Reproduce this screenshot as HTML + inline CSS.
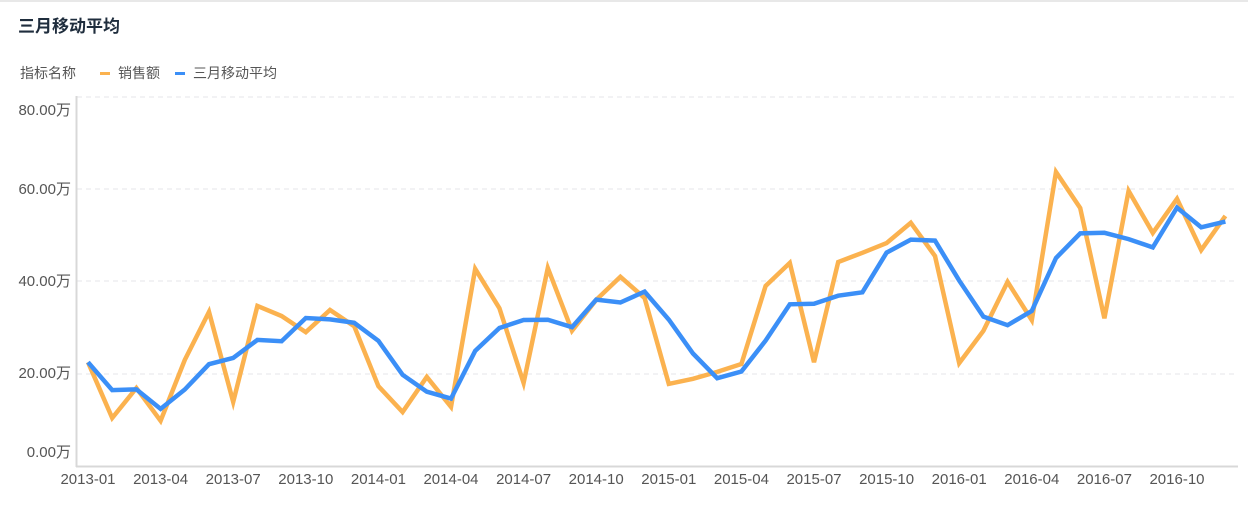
<!DOCTYPE html>
<html><head><meta charset="utf-8"><style>
body{margin:0;background:#fff;width:1248px;height:507px;overflow:hidden;font-family:"Liberation Sans","Noto Sans CJK SC",sans-serif}
</style></head><body>
<svg id="s" width="1248" height="507" xmlns="http://www.w3.org/2000/svg" font-family="Liberation Sans, Noto Sans CJK SC, sans-serif">
<rect x="0" y="0" width="1248" height="2" fill="#e8e8e8"/>
<text x="18" y="32" font-size="17" font-weight="bold" fill="#1f2d3d">三月移动平均</text>
<text x="20" y="78" font-size="14" fill="#555">指标名称</text>
<rect x="100" y="72" width="10" height="3" fill="#fbb24f"/>
<text x="118" y="78" font-size="14" fill="#555">销售额</text>
<rect x="175" y="72" width="10" height="3" fill="#3b8ff7"/>
<text x="193" y="78" font-size="14" fill="#555">三月移动平均</text>
<g stroke="#e4e6ea" stroke-dasharray="5,4" stroke-width="1">
<line x1="77" x2="1238" y1="97" y2="97"/><line x1="77" x2="1238" y1="189" y2="189"/>
<line x1="77" x2="1238" y1="281" y2="281"/><line x1="77" x2="1238" y1="374" y2="374"/>
</g>
<line x1="76.5" x2="76.5" y1="96" y2="467" stroke="#d8d8d8" stroke-width="2"/>
<line x1="76" x2="1238" y1="466.5" y2="466.5" stroke="#d8d8d8" stroke-width="2"/>
<g font-size="15" fill="#555" text-anchor="end">
<text x="71" y="115">80.00万</text><text x="71" y="194">60.00万</text>
<text x="71" y="286">40.00万</text><text x="71" y="378">20.00万</text><text x="71" y="457">0.00万</text>
</g>
<g id="xl" font-size="15" fill="#555" text-anchor="middle"></g>
<path id="po" fill="none" stroke="#fbb24f" stroke-width="4.5" stroke-linejoin="miter"/>
<path id="pb" fill="none" stroke="#3b8ff7" stroke-width="4.5" stroke-linejoin="miter"/>
</svg>
<script>
var d=[22.5,10.4,16.9,9.8,23,33.4,13.9,34.7,32.5,29,33.8,30.3,17.3,11.7,19.3,12.8,42.7,34.2,18,42.9,29.3,36,41,36.4,17.8,18.9,20.4,22.1,39,44,22.5,44.2,46.2,48.3,52.7,45.5,22.3,29.3,39.9,31.6,63.7,55.9,32,59.6,50.5,57.9,46.8,54.2];
function X(i){return 88+24.2*i}function Y(v){return 466-v*4.615}
var o="",b="";
for(var i=0;i<d.length;i++){var s=0,n=0;for(var j=Math.max(0,i-2);j<=i;j++){s+=d[j];n++}
o+=(i?"L":"M")+X(i).toFixed(1)+" "+Y(d[i]).toFixed(1);
b+=(i?"L":"M")+X(i).toFixed(1)+" "+Y(s/n).toFixed(1);}
document.getElementById("po").setAttribute("d",o);
document.getElementById("pb").setAttribute("d",b);
var g=document.getElementById("xl"),ns="http://www.w3.org/2000/svg";
for(var i=0;i<48;i+=3){var t=document.createElementNS(ns,"text");t.setAttribute("x",X(i));t.setAttribute("y",484);
var y=2013+Math.floor(i/12),m=i%12+1;t.textContent=y+"-"+(m<10?"0":"")+m;g.appendChild(t);}
</script>
</body></html>
